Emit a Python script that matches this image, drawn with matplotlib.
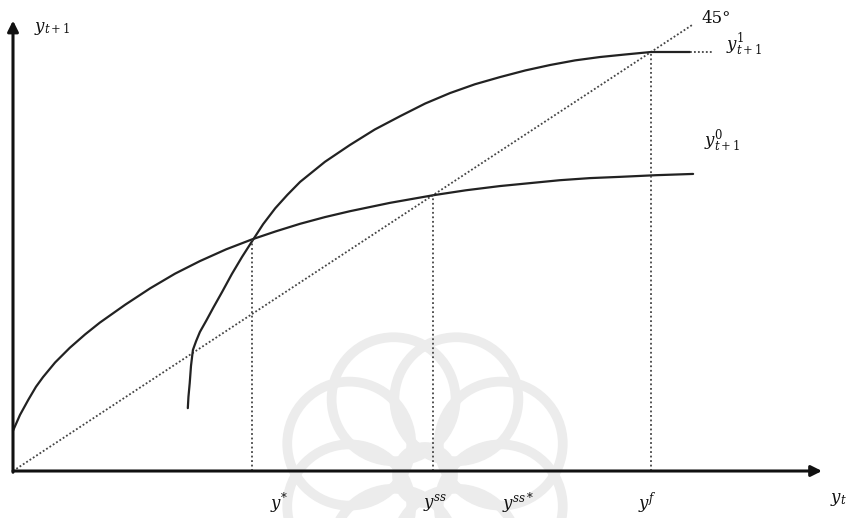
import numpy as np
import matplotlib
matplotlib.use("Agg")
from matplotlib import pyplot as plt
from matplotlib.patches import Ellipse

plt.rcParams["mathtext.fontset"] = "dejavuserif"

# lower transition curve y0_{t+1}
y0_x = [0.0, 0.011, 0.024, 0.036, 0.047, 0.066, 0.089, 0.113, 0.136, 0.176,
        0.215, 0.254, 0.293, 0.334, 0.375, 0.412, 0.450, 0.489, 0.528, 0.591,
        0.658, 0.710, 0.763, 0.810, 0.857, 0.904, 0.951, 1.008, 1.066]
y0_y = [0.096, 0.134, 0.170, 0.201, 0.224, 0.259, 0.294, 0.326, 0.354, 0.397,
        0.436, 0.471, 0.501, 0.529, 0.553, 0.572, 0.590, 0.606, 0.620, 0.640,
        0.658, 0.670, 0.680, 0.687, 0.694, 0.699, 0.702, 0.706, 0.709]

# upper transition curve y1_{t+1}
y1_x = [0.274, 0.275, 0.277, 0.279, 0.282, 0.287, 0.293, 0.303, 0.314, 0.328,
        0.343, 0.359, 0.375, 0.392, 0.411, 0.430, 0.450, 0.489, 0.528, 0.567,
        0.607, 0.646, 0.685, 0.724, 0.763, 0.803, 0.842, 0.881, 0.920, 0.959,
        1.0, 1.061]
y1_y = [0.150, 0.177, 0.210, 0.251, 0.289, 0.310, 0.332, 0.359, 0.390, 0.428,
        0.470, 0.511, 0.549, 0.589, 0.627, 0.659, 0.690, 0.738, 0.778, 0.815,
        0.847, 0.877, 0.902, 0.923, 0.940, 0.956, 0.969, 0.980, 0.988, 0.994,
        1.0, 1.0]

# 45 degree line and equilibrium points
diag_end = 1.065
eq_x = [0.375, 0.658, 1.0]
eq_y = [0.551, 0.658, 1.0]
tick_pos = [0.417, 0.661, 0.792, 0.995]
tick_labels = ["$y^{*}$", "$y^{ss}$", "$y^{ss*}$", "$y^{f}$"]

W, H = 849, 518
fig = plt.figure(figsize=(W / 100, H / 100), dpi=100)
ax = fig.add_axes([0, 0, 1, 1])
# origin sits at pixel (13, 471); one unit = 638 px across, 419 px up
ax.set_xlim(-13 / 638, (W - 13) / 638)
ax.set_ylim((471 - H) / 419, 471 / 419)
ax.axis("off")

# faint rosette stamp behind the plot
cx, cy = (425 - 13) / 638, (471 - 475) / 419
for a in np.linspace(0, 2 * np.pi, 9)[:-1] + np.pi / 8:
    ex = cx + 82 * np.cos(a) / 638
    ey = cy + 82 * np.sin(a) / 419
    ax.add_patch(Ellipse((ex, ey), 2 * 62 / 638, 2 * 62 / 419, fill=False,
                         ec="#ececec", lw=7, zorder=0))
ax.add_patch(Ellipse((cx, cy), 2 * 28 / 638, 2 * 28 / 419, fill=False,
                     ec="#ececec", lw=7, zorder=0))

# axes with arrow heads
arrow = dict(arrowstyle="-|>", lw=2.2, color="#111111", mutation_scale=16,
             shrinkA=0, shrinkB=0)
ax.annotate("", xy=(1.268, 0), xytext=(0, 0), arrowprops=arrow)
ax.annotate("", xy=(0, 1.075), xytext=(0, -0.003), arrowprops=arrow)

# 45 degree line
ax.plot([0, diag_end], [0, diag_end], color="#444444", lw=1.3,
        linestyle=(0, (1, 1.2)))

# transition curves
ax.plot(y0_x, y0_y, color="#222222", lw=1.6, solid_capstyle="round")
ax.plot(y1_x, y1_y, color="#222222", lw=1.6, solid_capstyle="round")
ax.plot([y1_x[-1], 1.097], [y1_y[-1], y1_y[-1]], color="#444444", lw=1.3,
        linestyle=(0, (1, 1.2)))

# dotted drop lines to the horizontal axis
for x, y in zip(eq_x, eq_y):
    ax.plot([x, x], [0, y], color="#444444", lw=1.3, linestyle=(0, (1, 1.5)))

txt = dict(color="#111111", fontsize=12, family="DejaVu Serif")
ax.text(0.061, 1.057, "$y_{t+1}$", ha="center", va="center", **txt)
ax.text(1.102, 1.081, "45°", ha="center", va="center", **txt)
ax.text(1.147, 1.017, "$y^{1}_{t+1}$", ha="center", va="center", **txt)
ax.text(1.111, 0.788, "$y^{0}_{t+1}$", ha="center", va="center", **txt)
ax.text(1.293, -0.069, "$y_t$", ha="center", va="center", **txt)
for x, lab in zip(tick_pos, tick_labels):
    ax.text(x, -0.077, lab, ha="center", va="center", **txt)

fig.savefig("out.png", dpi=100)
